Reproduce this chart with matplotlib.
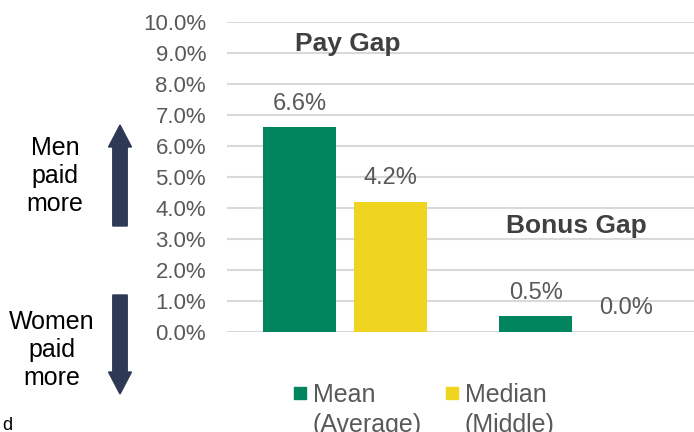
import numpy as np
import matplotlib.pyplot as plt
from matplotlib.patches import Rectangle, FancyArrow

plt.rcParams['font.family'] = ['Liberation Sans', 'DejaVu Sans']

groups = ['Pay Gap', 'Bonus Gap']
mean_vals = [6.6, 0.5]
median_vals = [4.2, 0.0]
series_names = ['Mean\n(Average)', 'Median\n(Middle)']
yticks = np.arange(0, 10.5, 1.0)

green = '#00855F'
yellow = '#F0D520'
grey = '#595959'
navy = '#2E3A55'

fig = plt.figure(figsize=(6.94, 4.32), dpi=100)
ax = fig.add_axes([0.327, 0.2315, 0.673, 0.7175])

x = np.arange(len(groups))
w = 0.31
b1 = ax.bar(x - 0.193, mean_vals, w, color=green, zorder=3)
b2 = ax.bar(x + 0.190, median_vals, w, color=yellow, zorder=3)

for bars, vals in [(b1, mean_vals), (b2, median_vals)]:
    for r, v in zip(bars, vals):
        ax.annotate(f'{v:.1f}%', (r.get_x() + r.get_width() / 2, v),
                    xytext=(0, 17), textcoords='offset points',
                    ha='center', va='center', fontsize=17, color=grey)

ax.text(x[0] + 0.01, 9.3, groups[0], ha='center', va='center', fontsize=19,
        fontweight='bold', color='#404040')
ax.text(x[1] - 0.02, 3.43, groups[1], ha='center', va='center', fontsize=19,
        fontweight='bold', color='#404040')

ax.set_xlim(-0.502, 1.477)
ax.set_ylim(0, 10)
ax.set_yticks(yticks)
ax.set_yticklabels([f'{t:.1f}%' for t in yticks])
ax.tick_params(axis='y', length=0, pad=15, labelsize=16, labelcolor=grey)
ax.set_xticks([])
ax.grid(axis='y', color='#D9D9D9', linewidth=1.5, zorder=0)
for s in ax.spines.values():
    s.set_visible(False)

# side arrows and notes
for y0, y1 in [(226, 125), (295, 394)]:
    fig.patches.append(FancyArrow(
        120 / 694, 1 - y0 / 432, 0, (y0 - y1) / 432, width=9 / 432,
        head_width=23 / 694, head_length=22 / 432, length_includes_head=True,
        color=navy, transform=fig.transFigure, figure=fig))
fig.text(55 / 694, 1 - 176 / 432, 'Men\npaid\nmore', ha='center', va='center',
         fontsize=18, color='black', linespacing=1.2)
fig.text(52 / 694, 1 - 350 / 432, 'Women\npaid\nmore', ha='center', va='center',
         fontsize=18, color='black', linespacing=1.2)
fig.text(2 / 694, 1 - 425 / 432, 'd', ha='left', va='center', fontsize=13,
         color='black')

# legend drawn by hand so the swatch sits beside the first line
for i, (name, c) in enumerate(zip(series_names, [green, yellow])):
    x0 = [294, 446][i]
    fig.patches.append(Rectangle((x0 / 694, 1 - 399 / 432), 12 / 694, 12 / 432,
                                 color=c, transform=fig.transFigure, figure=fig))
    fig.text((x0 + 19) / 694, 1 - 383 / 432, name, ha='left', va='top',
             fontsize=18, color=grey, linespacing=1.3)

fig.savefig('out.png', dpi=100)
